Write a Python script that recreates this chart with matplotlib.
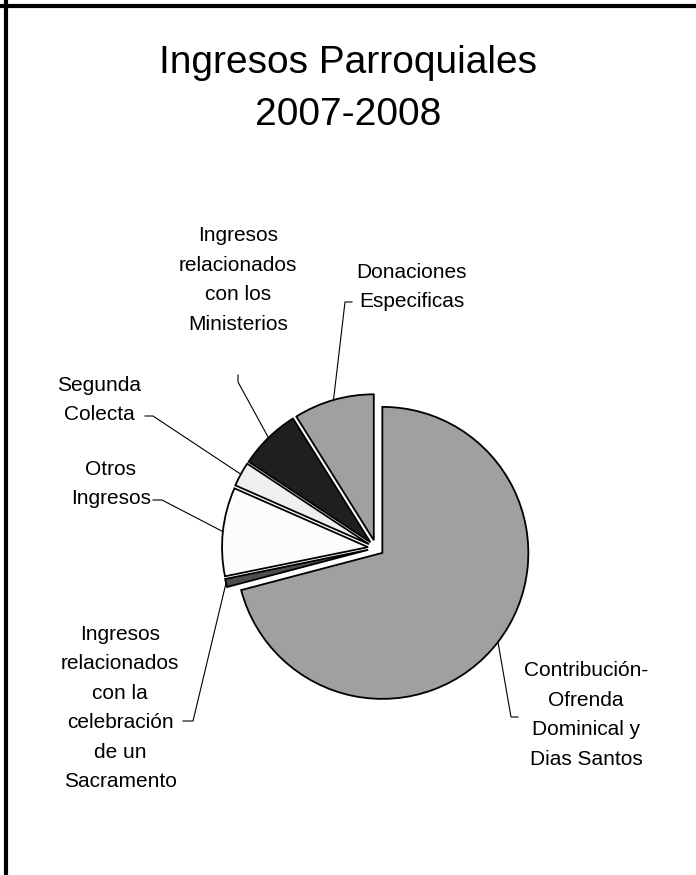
import numpy as np
import matplotlib
matplotlib.use('Agg')
import matplotlib.pyplot as plt
from matplotlib.lines import Line2D

plt.rcParams['font.family'] = ['Liberation Sans', 'DejaVu Sans']

# pie data, clockwise from 12 o'clock
categories = ['Contribución-\nOfrenda\nDominical y\nDias Santos',
              'Ingresos\nrelacionados\ncon la\ncelebración\nde un\nSacramento',
              'Otros\nIngresos',
              'Segunda\nColecta',
              'Ingresos\nrelacionados\ncon los\nMinisterios',
              'Donaciones\nEspecificas']
values = [70.9, 0.9, 9.8, 2.7, 6.8, 8.9]
colors = ['#a0a0a0', '#4d4d4d', '#fcfcfc', '#efefef', '#1f1f1f', '#a0a0a0']

# label layout (pixels): text centre, bend of the leader, end of the short stub
label_xy = [(586, 715), (120, 708), (111, 484), (99, 400), (238, 280), (412, 287)]
bend_xy = [(511, 717), (193, 721), (162, 500), (153, 416), (238, 382), (345, 302)]
stub_xy = [(518, 717), (183, 721), (153, 500), (145, 416), (238, 375), (352, 302)]

W, H = 696, 875
R = 146
fig = plt.figure(figsize=(W / 100, H / 100), dpi=100)
ax = fig.add_axes([0, 0, 1, 1])

# y axis is flipped so that data units are image pixels; in data space the pie
# therefore runs counter-clockwise from -90 to look clockwise from the top
# (explode offsets are in data units here, not fractions of the radius)
wedges, _ = ax.pie(values, colors=colors, startangle=-90, counterclock=True,
                   radius=R, center=(376, 548), explode=[8] * len(values),
                   wedgeprops=dict(edgecolor='black', linewidth=1.3))
ax.set_xlim(0, W)
ax.set_ylim(H, 0)
ax.axis('off')

for w, lab, (lx, ly), (bx, by), (sx, sy) in zip(wedges, categories, label_xy, bend_xy, stub_xy):
	mid = np.deg2rad((w.theta1 + w.theta2) / 2)
	cx, cy = w.center
	px = cx + w.r * np.cos(mid)
	py = cy + w.r * np.sin(mid)
	ax.plot([px, bx, sx], [py, by, sy], color='black', lw=0.8)
	ax.text(lx, ly, lab, ha='center', va='center', fontsize=15,
	        linespacing=1.7, color='black')

ax.text(W / 2, 73, 'Ingresos Parroquiales', ha='center', va='baseline', fontsize=28)
ax.text(W / 2, 125, '2007-2008', ha='center', va='baseline', fontsize=28)

# frame (left and top edges only are visible)
fig.add_artist(Line2D([5.5 / W, 5.5 / W], [0, 1], transform=fig.transFigure, color='black', lw=3))
fig.add_artist(Line2D([0, 1], [1 - 6 / H, 1 - 6 / H], transform=fig.transFigure, color='black', lw=3))

fig.savefig('out.png', dpi=100)
